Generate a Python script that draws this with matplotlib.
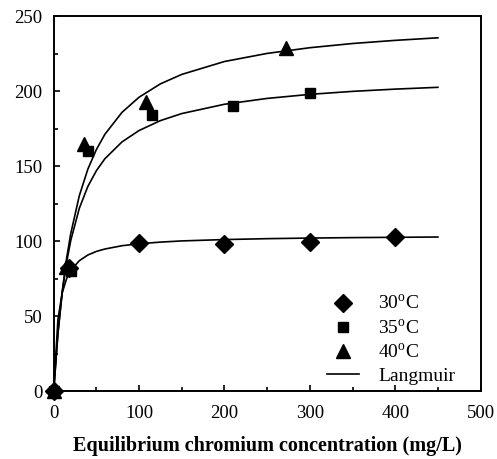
import matplotlib
matplotlib.use('Agg')
import matplotlib.pyplot as plt
from matplotlib.ticker import MultipleLocator

# measured points (Ce in mg/L, q in mg/g)
ce_30 = [0, 18, 100, 200, 300, 400]
q_30 = [0, 82, 99, 98, 99.5, 103]
ce_35 = [0, 20, 40, 115, 210, 300]
q_35 = [0, 80, 160, 184, 190, 199]
ce_40 = [0, 15, 36, 108, 272]
q_40 = [0, 83, 165, 193, 229]

# Langmuir curves
ce_fit = [0, 5, 10, 15, 20, 30, 40, 50, 60, 80, 100, 125, 150, 200, 250, 300, 350, 400, 450]
fit_30 = [0, 47.8, 65.5, 74.7, 80.4, 86.9, 90.7, 93.1, 94.7, 96.9, 98.2, 99.3, 100.1,
          101.0, 101.6, 102.0, 102.3, 102.5, 102.7]
fit_35 = [0, 38.9, 65.7, 85.4, 100.4, 121.8, 136.4, 146.9, 154.9, 166.1, 173.7, 180.3, 185.0,
          191.2, 195.1, 197.8, 199.8, 201.3, 202.5]
fit_40 = [0, 38.3, 66.4, 88.0, 105.0, 130.2, 147.9, 161.0, 171.2, 185.8, 195.9, 204.8, 211.1,
          219.7, 225.1, 228.9, 231.7, 233.8, 235.5]

plt.rcParams['font.family'] = ['Liberation Serif', 'DejaVu Serif']
plt.rcParams['mathtext.fontset'] = 'custom'
plt.rcParams['mathtext.rm'] = 'Liberation Serif'

fig = plt.figure(figsize=(4.97, 4.59), dpi=100)
ax = fig.add_axes([0.108, 0.148, 0.859, 0.817])

ax.plot(ce_fit, fit_30, '-', color='black', lw=1.2, label='_nolegend_')
ax.plot(ce_fit, fit_35, '-', color='black', lw=1.2, label='_nolegend_')
ax.plot(ce_fit, fit_40, '-', color='black', lw=1.2, label='_nolegend_')

ax.plot(ce_30, q_30, 'D', color='black', ms=9, clip_on=False, label='30$^{\\rm o}$C')
ax.plot(ce_35, q_35, 's', color='black', ms=7.5, clip_on=False, label='35$^{\\rm o}$C')
ax.plot(ce_40, q_40, '^', color='black', ms=9.5, clip_on=False, label='40$^{\\rm o}$C')
ax.plot([], [], '-', color='black', lw=1.2, label='Langmuir')

ax.set_xlim(0, 500)
ax.set_ylim(0, 250)
ax.xaxis.set_major_locator(MultipleLocator(100))
ax.xaxis.set_minor_locator(MultipleLocator(50))
ax.yaxis.set_major_locator(MultipleLocator(50))
ax.yaxis.set_minor_locator(MultipleLocator(25))
ax.tick_params(which='both', direction='in', labelsize=13.5, width=1.2, color='black')
ax.tick_params(which='major', length=4, pad=8)
ax.tick_params(axis='x', which='major', pad=10)
ax.tick_params(which='minor', length=3)
for s in ax.spines.values():
    s.set_linewidth(1.4)

ax.set_xlabel('Equilibrium chromium concentration (mg/L)', fontsize=14.5,
              fontweight='bold', labelpad=10)

ax.legend(loc='lower left', bbox_to_anchor=(0.64, 0.017), frameon=False, fontsize=14,
          handlelength=1.65, handletextpad=1.0, labelspacing=0.25, borderpad=0,
          borderaxespad=0)

fig.savefig('out.png', dpi=100)
